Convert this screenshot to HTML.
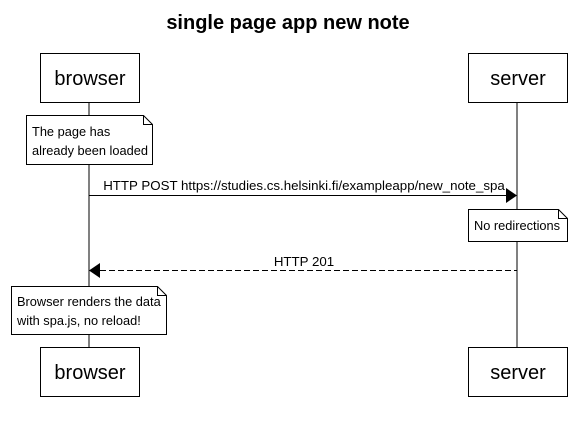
<!DOCTYPE html><html><head><style>body{margin:0;background:#fff}</style></head><body>
<svg width="576" height="431" xmlns="http://www.w3.org/2000/svg" font-family="Liberation Sans, Arial, sans-serif">
<rect width="576" height="431" fill="#fff"/>
<text x="288" y="29" text-anchor="middle" font-size="20" font-weight="bold">single page app new note</text>
<line x1="89" y1="102" x2="89" y2="347" stroke="#000"/>
<line x1="517" y1="102" x2="517" y2="347" stroke="#000"/>
<g fill="#fff" stroke="#000">
<rect x="40.5" y="53.5" width="99" height="49"/>
<rect x="468.5" y="53.5" width="99" height="49"/>
<rect x="40.5" y="347.5" width="99" height="49"/>
<rect x="468.5" y="347.5" width="99" height="49"/>
<path d="M26.5 115.5H143.5L152.5 124.5V164.5H26.5Z"/>
<path d="M143.5 115.5V124.5H152.5" fill="none"/>
<path d="M468.5 209.5H558.5L567.5 218.5V241.5H468.5Z"/>
<path d="M558.5 209.5V218.5H567.5" fill="none"/>
<path d="M11.5 286.5H157.5L166.5 295.5V334.5H11.5Z"/>
<path d="M157.5 286.5V295.5H166.5" fill="none"/>
</g>
<g font-size="20" text-anchor="middle">
<text x="90" y="85">browser</text><text x="518" y="85">server</text>
<text x="90" y="379">browser</text><text x="518" y="379">server</text>
</g>
<g font-size="12.8">
<text x="32" y="136">The page has</text><text x="32" y="155">already been loaded</text>
<text x="474" y="230">No redirections</text>
<text x="17" y="306">Browser renders the data</text><text x="17" y="325">with spa.js, no reload!</text>
</g>
<g font-size="13.3" text-anchor="middle">
<text x="304" y="190">HTTP POST https://studies.cs.helsinki.fi/exampleapp/new_note_spa</text>
<text x="304" y="266">HTTP 201</text>
</g>
<line x1="89" y1="195.5" x2="508" y2="195.5" stroke="#000"/>
<path d="M506 188L517 195.5L506 203Z"/>
<line x1="100" y1="270.5" x2="517" y2="270.5" stroke="#000" stroke-dasharray="6,3"/>
<path d="M100 263L89 270.5L100 278Z"/>
</svg>
</body></html>
